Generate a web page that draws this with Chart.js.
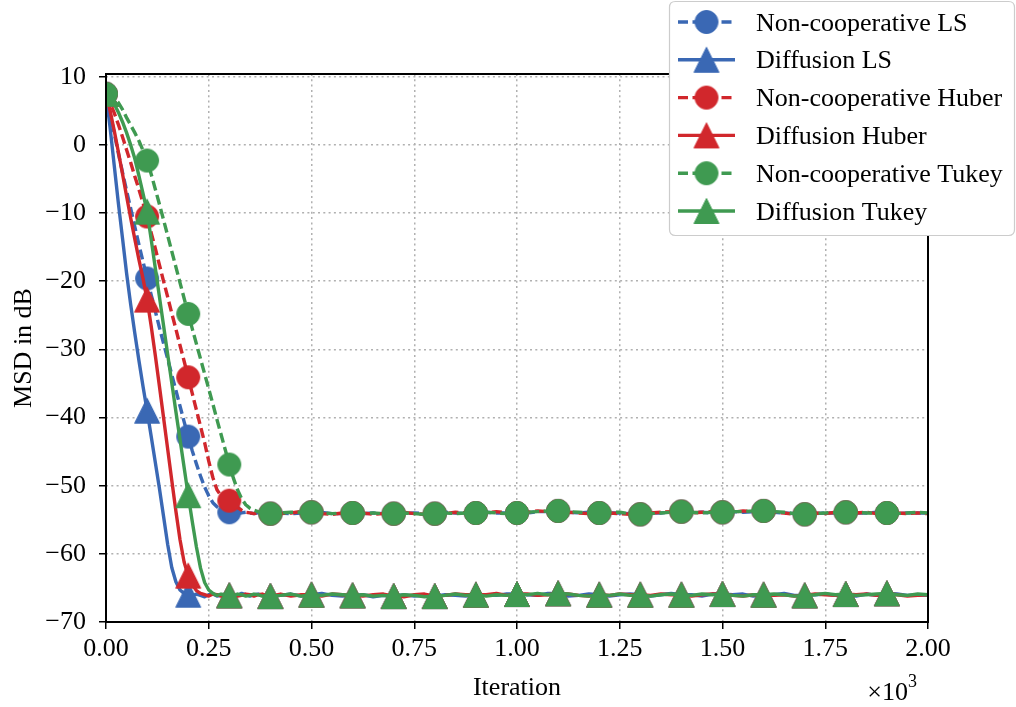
<!DOCTYPE html>
<html>
<head>
<meta charset="utf-8">
<script src="https://cdn.jsdelivr.net/npm/chart.js@4.4.1/dist/chart.umd.min.js"></script>
<style>
  html, body { margin: 0; padding: 0; background: #fff; }
  #wrap { width: 1016px; height: 707px; }
</style>
</head>
<body>
<div id="wrap"><canvas id="msdChart" width="1016" height="707"></canvas></div>
<script>
// sample grid (iterations): every 10 during the transient, every 25 afterwards
const iterations = [
  0, 10, 20, 30, 40, 50, 60, 70, 80, 90,
  100, 110, 120, 130, 140, 150, 160, 170, 180, 190,
  200, 210, 220, 230, 240, 250, 260, 270, 280, 290,
  300, 310, 320, 330, 340, 350, 360, 370, 380, 390,
  400,
  425, 450, 475, 500, 525, 550, 575, 600,
  625, 650, 675, 700, 725, 750, 775, 800,
  825, 850, 875, 900, 925, 950, 975, 1000,
  1025, 1050, 1075, 1100, 1125, 1150, 1175, 1200,
  1225, 1250, 1275, 1300, 1325, 1350, 1375, 1400,
  1425, 1450, 1475, 1500, 1525, 1550, 1575, 1600,
  1625, 1650, 1675, 1700, 1725, 1750, 1775, 1800,
  1825, 1850, 1875, 1900, 1925, 1950, 1975, 2000
];

const ncLS = [
  7.5, 4.6, 1.7, -1.2, -4.0, -6.7, -9.3, -12.0, -14.6, -17.1,
  -19.6, -22.0, -24.4, -26.8, -29.1, -31.4, -33.7, -36.0, -38.3, -40.6,
  -42.8, -44.9, -46.8, -48.6, -50.2, -51.5, -52.5, -53.1, -53.5, -53.8,
  -53.9, -54.0, -54.1, -54.0, -53.9, -54.0, -54.1, -54.0, -53.9, -54.0,
  -54.1,
  -54.0, -54.1, -54.0, -53.9, -53.9, -54.1, -54.1, -54.0,
  -54.1, -54.0, -54.1, -54.1, -54.1, -54.0, -54.1, -54.1,
  -53.9, -54.0, -54.1, -54.0, -53.9, -54.0, -54.0, -54.0,
  -54.0, -53.8, -53.8, -53.7, -53.9, -54.0, -53.9, -54.0,
  -54.0, -54.0, -54.1, -54.2, -54.0, -54.0, -53.9, -53.8,
  -53.9, -53.9, -54.0, -53.9, -53.8, -53.9, -53.8, -53.7,
  -53.9, -54.0, -54.1, -54.2, -54.1, -54.0, -54.0, -53.9,
  -54.0, -54.0, -53.9, -54.0, -54.1, -54.0, -54.0, -54.0
];

const diffLS = [
  7.5, 2.5, -3.0, -8.5, -13.6, -18.8, -23.4, -27.6, -31.6, -35.4,
  -39.0, -42.8, -46.6, -50.4, -54.5, -58.6, -62.0, -64.1, -65.3, -65.8,
  -66.0, -66.2, -65.9, -66.1, -66.3, -66.0, -65.9, -66.2, -66.1, -65.9,
  -66.1, -66.2, -66.1, -65.8, -66.0, -66.2, -66.0, -65.9, -66.1, -66.3,
  -66.2,
  -66.1, -65.9, -66.2, -66.0, -65.8, -66.1, -66.2, -66.1,
  -66.0, -66.3, -66.1, -66.2, -66.0, -66.2, -66.1, -66.2,
  -66.0, -66.1, -66.2, -66.0, -66.0, -66.1, -65.9, -65.9,
  -66.0, -66.1, -65.8, -65.8, -66.2, -66.1, -65.9, -66.0,
  -66.2, -66.0, -65.9, -66.0, -66.2, -66.0, -65.8, -66.0,
  -66.0, -66.2, -65.9, -65.9, -66.0, -65.9, -66.2, -66.0,
  -66.0, -65.8, -66.1, -66.1, -66.0, -65.9, -66.1, -65.9,
  -66.2, -65.9, -66.1, -65.8, -65.9, -66.1, -66.0, -66.1
];

const ncHuber = [
  7.5, 6.2, 4.7, 3.0, 1.2, -0.7, -2.6, -4.6, -6.5, -8.5,
  -10.5, -12.9, -15.2, -17.6, -20.0, -22.3, -24.7, -27.0, -29.4, -31.7,
  -34.1, -36.5, -38.9, -41.3, -43.7, -46.4, -48.8, -50.6, -51.5, -51.9,
  -52.2, -52.7, -53.2, -53.6, -53.9, -54.0, -54.1, -54.0, -53.9, -54.0,
  -54.1,
  -54.1, -54.0, -53.8, -53.9, -54.1, -54.2, -54.0, -54.0,
  -54.0, -54.2, -54.1, -54.1, -53.9, -54.1, -54.2, -54.1,
  -54.1, -53.9, -54.0, -54.0, -54.0, -53.8, -54.0, -54.0,
  -53.9, -53.7, -53.8, -53.7, -53.9, -54.0, -54.1, -54.0,
  -54.0, -54.1, -54.2, -54.2, -54.0, -53.9, -53.8, -53.8,
  -54.0, -53.9, -53.8, -53.9, -53.9, -53.7, -53.8, -53.7,
  -53.9, -54.0, -54.2, -54.2, -54.0, -54.1, -53.9, -53.9,
  -54.0, -53.9, -54.1, -54.0, -54.0, -54.1, -54.0, -54.1
];

const diffHuber = [
  7.5, 5.0, 2.1, -1.0, -4.2, -7.5, -10.7, -13.8, -16.8, -19.6,
  -22.7, -26.6, -30.9, -35.4, -40.0, -44.6, -49.2, -53.7, -57.9, -61.2,
  -63.2, -64.5, -65.4, -65.8, -66.0, -66.2, -65.9, -66.0, -66.2, -66.1,
  -66.1, -66.0, -66.2, -66.1, -65.9, -66.0, -66.2, -66.0, -65.9, -66.1,
  -66.2,
  -65.9, -66.2, -66.0, -66.0, -66.2, -65.9, -66.0, -66.1,
  -66.2, -66.0, -65.9, -66.2, -66.3, -66.0, -65.9, -66.2,
  -66.1, -65.9, -66.0, -66.0, -66.0, -65.8, -66.1, -65.9,
  -65.9, -66.1, -66.0, -65.8, -65.9, -66.1, -66.2, -66.0,
  -66.1, -65.9, -66.0, -66.0, -66.1, -65.9, -66.0, -66.0,
  -66.2, -66.0, -65.9, -65.9, -66.1, -66.2, -66.0, -66.0,
  -66.1, -66.0, -66.2, -66.1, -65.9, -66.0, -66.1, -65.9,
  -66.0, -65.9, -66.1, -65.8, -66.0, -66.2, -66.1, -66.0
];

const ncTukey = [
  7.5, 7.3, 6.9, 6.2, 5.2, 4.0, 2.9, 1.8, 0.6, -0.8,
  -2.3, -4.3, -6.5, -8.7, -11.0, -13.3, -15.6, -17.9, -20.2, -22.5,
  -24.8, -27.0, -29.2, -31.4, -33.6, -35.8, -38.0, -40.3, -42.5, -44.7,
  -46.9, -48.9, -50.6, -51.9, -52.8, -53.3, -53.6, -53.8, -54.0, -54.1,
  -54.1,
  -54.0, -53.9, -53.9, -53.9, -54.0, -54.1, -54.0, -54.0,
  -54.1, -54.0, -54.1, -54.1, -54.0, -54.1, -54.2, -54.1,
  -54.0, -54.1, -54.0, -54.0, -53.9, -54.0, -54.1, -54.0,
  -53.9, -53.8, -53.7, -53.7, -53.8, -53.9, -54.0, -54.0,
  -53.9, -53.9, -54.1, -54.2, -54.1, -54.0, -53.9, -53.8,
  -53.9, -54.0, -53.9, -53.9, -53.8, -53.8, -53.7, -53.7,
  -53.8, -53.9, -54.1, -54.2, -54.1, -54.0, -53.9, -53.9,
  -53.9, -54.0, -54.0, -54.0, -54.1, -54.0, -53.9, -54.0
];

const diffTukey = [
  7.5, 6.9, 6.0, 4.8, 3.4, 1.8, 0.0, -2.0, -4.5, -7.1,
  -9.8, -13.9, -18.1, -22.3, -26.5, -30.7, -34.9, -39.1, -43.2, -47.3,
  -51.4, -55.3, -59.0, -62.1, -64.2, -65.3, -65.8, -66.1, -65.9, -66.0,
  -66.1, -66.2, -65.9, -66.0, -66.2, -66.1, -65.9, -66.0, -66.2, -66.1,
  -66.2,
  -66.1, -65.9, -66.2, -66.0, -66.1, -65.9, -66.0, -66.1,
  -66.0, -66.2, -66.1, -66.2, -66.0, -66.1, -66.3, -66.2,
  -66.1, -65.9, -66.1, -66.0, -66.2, -66.0, -66.1, -65.9,
  -66.0, -65.8, -66.0, -65.8, -65.9, -66.1, -66.2, -66.0,
  -66.1, -65.9, -66.1, -66.0, -66.2, -66.0, -65.9, -66.0,
  -66.1, -65.9, -66.0, -65.9, -66.1, -66.2, -66.0, -66.0,
  -65.9, -66.0, -66.2, -66.1, -66.0, -65.8, -66.0, -65.9,
  -66.1, -66.0, -65.9, -65.8, -66.0, -66.1, -65.9, -66.0
];

const seriesNames = [
  "Non-cooperative LS", "Diffusion LS",
  "Non-cooperative Huber", "Diffusion Huber",
  "Non-cooperative Tukey", "Diffusion Tukey"
];
const xTicks = [0, 250, 500, 750, 1000, 1250, 1500, 1750, 2000];
const yTicks = [-70, -60, -50, -40, -30, -20, -10, 0, 10];

const BLUE = "#3a68b4", RED = "#d1272c", GREEN = "#3f9a51";
const FONT = "'Liberation Serif', 'DejaVu Serif', serif";

// matplotlib-like marker sprites (circle 'o' and triangle '^')
function markerSprite(shape, color) {
  const c = document.createElement("canvas");
  c.width = c.height = shape === "circle" ? 26 : 28;
  const g = c.getContext("2d");
  g.fillStyle = color;
  g.strokeStyle = color;
  g.lineWidth = 1;
  g.beginPath();
  if (shape === "circle") {
    g.arc(13, 13, 11.5, 0, Math.PI * 2);
  } else {
    g.moveTo(14, 1.5);
    g.lineTo(1.5, 26.5);
    g.lineTo(26.5, 26.5);
    g.closePath();
  }
  g.fill();
  g.stroke();
  return c;
}

const styles = [
  { data: ncLS, color: BLUE, dashed: true, shape: "circle" },
  { data: diffLS, color: BLUE, dashed: false, shape: "triangle" },
  { data: ncHuber, color: RED, dashed: true, shape: "circle" },
  { data: diffHuber, color: RED, dashed: false, shape: "triangle" },
  { data: ncTukey, color: GREEN, dashed: true, shape: "circle" },
  { data: diffTukey, color: GREEN, dashed: false, shape: "triangle" }
];
styles.forEach(s => s.sprite = markerSprite(s.shape, s.color));

const LW = 3.4;
const DASH = [10, 4.5];

const datasets = styles.map((s, i) => ({
  label: seriesNames[i],
  data: iterations.map((it, k) => ({ x: it, y: s.data[k] })),
  borderColor: s.color,
  backgroundColor: s.color,
  borderWidth: LW,
  borderDash: s.dashed ? DASH : [],
  borderCapStyle: "butt",
  borderJoinStyle: "round",
  tension: 0,
  pointStyle: s.sprite,
  pointRadius: ctx => {
    const it = iterations[ctx.dataIndex];
    return (it % 100 === 0 && it < 2000) ? 12 : 0;
  },
  pointHoverRadius: 0,
  order: styles.length - i
}));

const decorations = {
  id: "decorations",
  afterDatasetsDraw(chart) {
    const { ctx, chartArea: a } = chart;
    ctx.save();
    ctx.strokeStyle = "#000";
    ctx.lineWidth = 2;
    ctx.strokeRect(a.left, a.top, a.right - a.left, a.bottom - a.top);
    ctx.restore();
  },
  afterDraw(chart) {
    const { ctx, chartArea: a } = chart;
    ctx.save();
    ctx.fillStyle = "#000";
    ctx.font = "26px " + FONT;
    ctx.textBaseline = "alphabetic";

    // axis titles
    ctx.textAlign = "center";
    ctx.fillText("Iteration", (a.left + a.right) / 2, 695);
    ctx.save();
    ctx.translate(30.5, (a.top + a.bottom) / 2);
    ctx.rotate(-Math.PI / 2);
    ctx.fillText("MSD in dB", 0, 0);
    ctx.restore();

    // offset text
    ctx.textAlign = "right";
    ctx.fillText("\u00d710", 908, 700);
    ctx.textAlign = "left";
    ctx.font = "18px " + FONT;
    ctx.fillText("3", 908, 687);

    // legend
    const bx = 669.5, by = 1.5, bw = 345, bh = 234, r = 6;
    ctx.beginPath();
    ctx.moveTo(bx + r, by);
    ctx.lineTo(bx + bw - r, by);
    ctx.quadraticCurveTo(bx + bw, by, bx + bw, by + r);
    ctx.lineTo(bx + bw, by + bh - r);
    ctx.quadraticCurveTo(bx + bw, by + bh, bx + bw - r, by + bh);
    ctx.lineTo(bx + r, by + bh);
    ctx.quadraticCurveTo(bx, by + bh, bx, by + bh - r);
    ctx.lineTo(bx, by + r);
    ctx.quadraticCurveTo(bx, by, bx + r, by);
    ctx.closePath();
    ctx.fillStyle = "#fff";
    ctx.fill();
    ctx.strokeStyle = "#cccccc";
    ctx.lineWidth = 1.2;
    ctx.stroke();

    ctx.font = "26px " + FONT;
    ctx.textAlign = "left";
    styles.forEach((s, i) => {
      const cy = 22 + i * 37.8;
      ctx.beginPath();
      ctx.strokeStyle = s.color;
      ctx.lineWidth = LW;
      ctx.setLineDash(s.dashed ? DASH : []);
      ctx.moveTo(678, cy);
      ctx.lineTo(735, cy);
      ctx.stroke();
      ctx.setLineDash([]);
      ctx.drawImage(s.sprite, 706.5 - s.sprite.width / 2, cy - s.sprite.height / 2);
      ctx.fillStyle = "#000";
      ctx.fillText(seriesNames[i], 756, cy + 8.5);
    });
    ctx.restore();
  }
};

const gridCommon = {
  color: "#b0b0b0",
  lineWidth: 1.5,
  tickColor: "#000",
  tickWidth: 1.5,
  tickLength: 7
};

new Chart(document.getElementById("msdChart"), {
  type: "line",
  data: { datasets },
  options: {
    responsive: false,
    animation: false,
    devicePixelRatio: 1,
    layout: { padding: { top: 74, right: 88, left: 0, bottom: 0 } },
    plugins: { legend: { display: false }, tooltip: { enabled: false } },
    events: [],
    scales: {
      x: {
        type: "linear",
        min: 0,
        max: 2000,
        afterBuildTicks: s => { s.ticks = xTicks.map(v => ({ value: v })); },
        afterFit: s => { s.height = 85; },
        ticks: {
          callback: v => (v / 1000).toFixed(2),
          color: "#000",
          font: { family: FONT, size: 26 },
          padding: 5,
          maxRotation: 0,
          autoSkip: false
        },
        grid: gridCommon,
        border: { display: false, dash: [2, 3.3] }
      },
      y: {
        type: "linear",
        min: -70,
        max: 10.4,
        afterBuildTicks: s => { s.ticks = yTicks.map(v => ({ value: v })); },
        afterFit: s => { s.width = 106; },
        ticks: {
          callback: v => v < 0 ? "\u2212" + Math.abs(v) : String(v),
          color: "#000",
          font: { family: FONT, size: 26 },
          padding: 13,
          autoSkip: false
        },
        grid: gridCommon,
        border: { display: false, dash: [2, 3.3] }
      }
    }
  },
  plugins: [decorations]
});
</script>
</body>
</html>
